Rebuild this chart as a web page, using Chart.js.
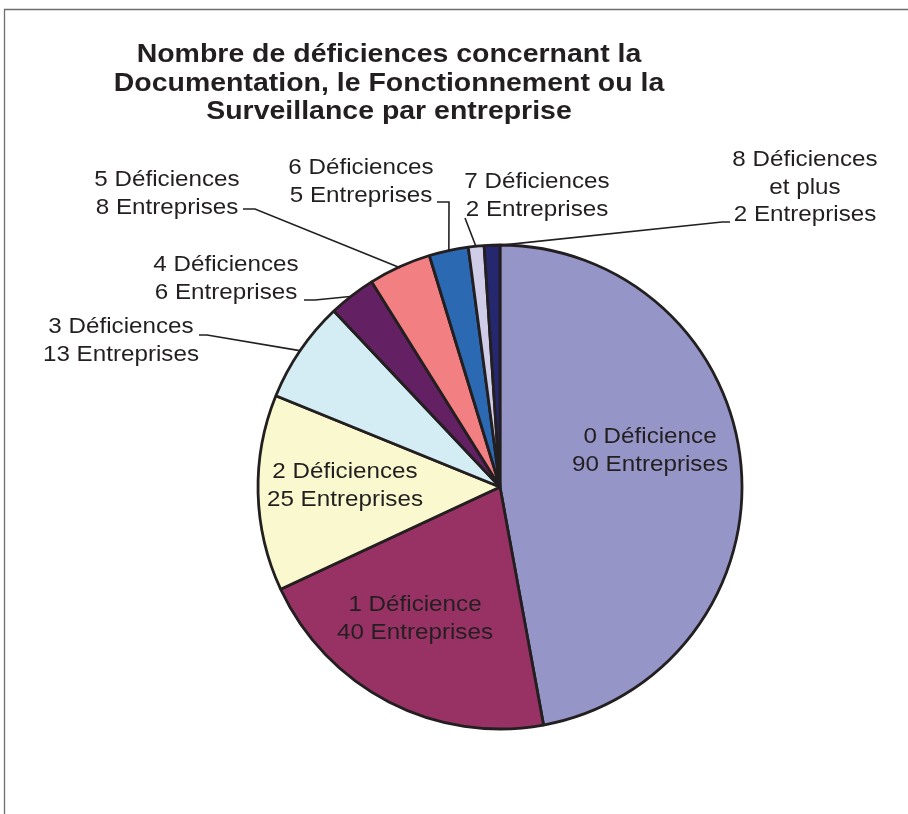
<!DOCTYPE html>
<html>
<head>
<meta charset="utf-8">
<title>Déficiences par entreprise</title>
<script src="https://cdn.jsdelivr.net/npm/chart.js@4/dist/chart.umd.min.js"></script>
<style>
    body { margin: 0; background: #ffffff; }
    #wrap { position: relative; width: 908px; height: 814px; }
</style>
</head>
<body>
<div id="wrap"><canvas id="pieChart" width="908" height="814"></canvas></div>
<script>
// ========================================
// DATA
// ========================================
const titleLines = [
    'Nombre de déficiences concernant la',
    'Documentation, le Fonctionnement ou la',
    'Surveillance par entreprise'
];
const categories = [
    ['0 Déficience'],
    ['1 Déficience'],
    ['2 Déficiences'],
    ['3 Déficiences'],
    ['4 Déficiences'],
    ['5 Déficiences'],
    ['6 Déficiences'],
    ['7 Déficiences'],
    ['8 Déficiences', 'et plus']
];
const entreprises = [90, 40, 25, 13, 6, 8, 5, 2, 2];
const sliceColors = [
    '#9595C8', '#983264', '#FAF8CE', '#D4EDF4', '#632063',
    '#F27F82', '#2B69B3', '#CFCDE8', '#25276F'
];

// ========================================
// LABEL LAYOUT (text centre, leader elbow points)
// ========================================
const labelLayout = [
    { x: 650, y: 437, leader: null },
    { x: 415, y: 605, leader: null },
    { x: 345, y: 472, leader: null },
    { x: 121, y: 327, leader: [[199, 335], [207, 335]] },
    { x: 226, y: 265, leader: [[304, 300], [315, 300]] },
    { x: 167, y: 180, leader: [[243, 209], [255, 209]] },
    { x: 361, y: 168, leader: [[437, 202], [449, 202]] },
    { x: 537, y: 182, leader: [[465, 218]] },
    { x: 805, y: 160, leader: [[730, 222], [722, 222]] }
];
const textColor = '#231F20';
const lineGap = 27.5;

function labelLines(i) {
    return categories[i].concat([entreprises[i] + ' Entreprises']);
}

function drawStretched(ctx, text, x, y, sx) {
    ctx.save();
    ctx.translate(x, y);
    ctx.scale(sx, 1);
    ctx.fillText(text, 0, 0);
    ctx.restore();
}

// ========================================
// PLUGIN: frame, title, labels and leader lines
// ========================================
const decorPlugin = {
    id: 'decor',
    beforeDraw(chart) {
        const ctx = chart.ctx;
        ctx.save();
        ctx.fillStyle = '#ffffff';
        ctx.fillRect(0, 0, chart.width, chart.height);
        ctx.strokeStyle = '#6d6d6d';
        ctx.lineWidth = 1.3;
        ctx.beginPath();
        ctx.moveTo(4.5, 814);
        ctx.lineTo(4.5, 9.5);
        ctx.lineTo(908, 9.5);
        ctx.stroke();
        ctx.restore();
    },
    afterDraw(chart) {
        const ctx = chart.ctx;
        const arcs = chart.getDatasetMeta(0).data;
        ctx.save();

        // title
        ctx.fillStyle = textColor;
        ctx.textAlign = 'center';
        ctx.textBaseline = 'alphabetic';
        ctx.font = 'bold 26px "Liberation Sans", Arial, sans-serif';
        titleLines.forEach((t, k) => drawStretched(ctx, t, 389, 62 + k * 28.5, 1.095));

        // leader lines
        ctx.strokeStyle = textColor;
        ctx.lineWidth = 1.6;
        labelLayout.forEach((lay, i) => {
            if (!lay.leader) return;
            const arc = arcs[i];
            const mid = (arc.startAngle + arc.endAngle) / 2;
            const px = arc.x + Math.cos(mid) * (arc.outerRadius - 1);
            const py = arc.y + Math.sin(mid) * (arc.outerRadius - 1);
            ctx.beginPath();
            ctx.moveTo(lay.leader[0][0], lay.leader[0][1]);
            lay.leader.slice(1).forEach(p => ctx.lineTo(p[0], p[1]));
            ctx.lineTo(px, py);
            ctx.stroke();
        });

        // labels
        ctx.font = '22px "Liberation Sans", Arial, sans-serif';
        ctx.textBaseline = 'middle';
        labelLayout.forEach((lay, i) => {
            labelLines(i).forEach((t, k) => {
                drawStretched(ctx, t, lay.x, lay.y + k * lineGap, 1.1);
            });
        });
        ctx.restore();
    }
};

// ========================================
// CHART
// ========================================
const ctx = document.getElementById('pieChart').getContext('2d');
const pieChart = new Chart(ctx, {
    type: 'pie',
    data: {
        labels: categories.map(c => c.join(' ')),
        datasets: [{
            data: entreprises,
            backgroundColor: sliceColors,
            borderColor: '#231F20',
            borderWidth: 2.8,
            radius: 242
        }]
    },
    options: {
        responsive: false,
        animation: false,
        layout: { padding: { left: 257, right: 165, top: 244, bottom: 84 } },
        plugins: {
            legend: { display: false },
            title: { display: false },
            tooltip: { enabled: false }
        }
    },
    plugins: [decorPlugin]
});
</script>
</body>
</html>
